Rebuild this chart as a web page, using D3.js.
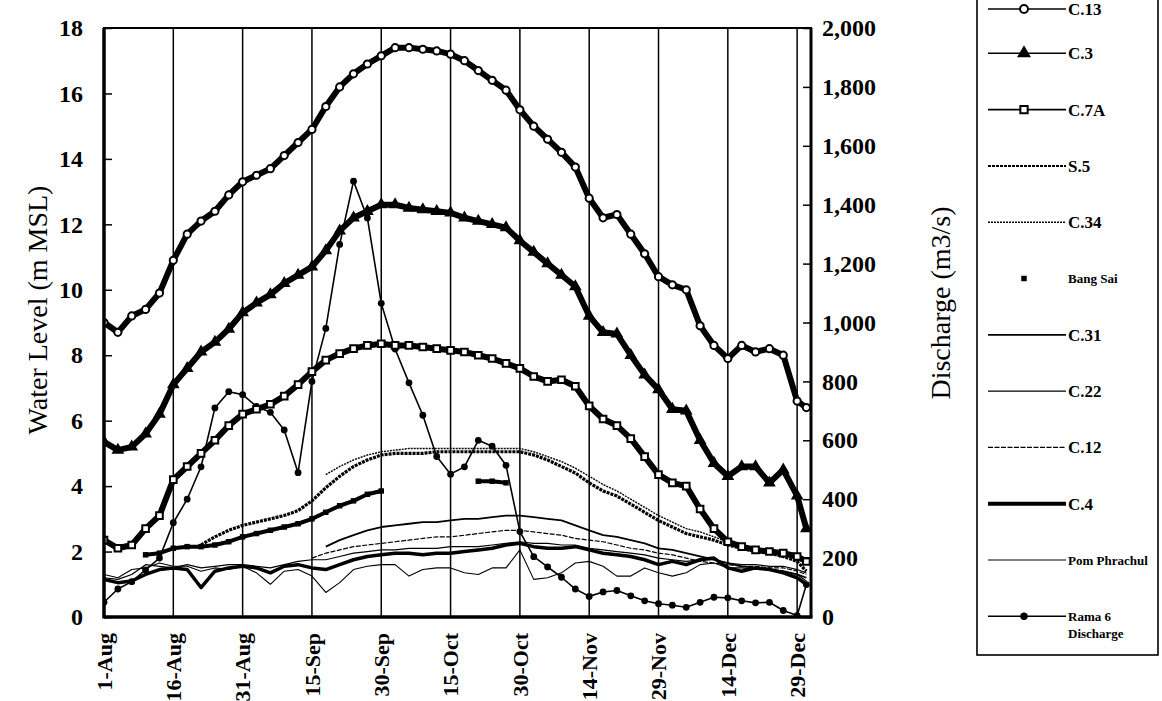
<!DOCTYPE html>
<html><head><meta charset="utf-8">
<script src="https://cdn.jsdelivr.net/npm/d3@7"></script>
<style>
body{margin:0;background:#fff}
svg{display:block}
text{font-family:"Liberation Serif","Times New Roman",serif;fill:#000}
</style>
</head><body>
<svg id="c" width="1162" height="701"></svg>
<script>
// ---- data (days after 1-Aug) ----
const days=[0,3,6,9,12,15,18,21,24,27,30,33,36,39,42,45,48,51,54,57,60,63,66,69,72,75,78,81,84,87,90,93,96,99,102,105,108,111,114,117,120,123,126,129,132,135,138,141,144,147,150,152];
const tickDays=[0,15,30,45,60,75,90,105,120,135,150];
const tickLabels=["1-Aug","16-Aug","31-Aug","15-Sep","30-Sep","15-Oct","30-Oct","14-Nov","29-Nov","14-Dec","29-Dec"];
const levelTicks=[0,2,4,6,8,10,12,14,16,18];
const dischargeTicks=[0,200,400,600,800,1000,1200,1400,1600,1800,2000];
const N=null;
const c13=[9.0,8.7,9.2,9.4,9.9,10.9,11.7,12.1,12.4,12.9,13.3,13.5,13.7,14.1,14.5,14.9,15.6,16.2,16.6,16.9,17.15,17.4,17.4,17.35,17.3,17.2,17.0,16.7,16.4,16.1,15.5,15.0,14.6,14.2,13.75,12.8,12.2,12.3,11.7,11.1,10.4,10.15,10.0,8.9,8.3,7.9,8.3,8.1,8.2,8.0,6.6,6.4];
const c3=[5.35,5.1,5.2,5.6,6.2,7.1,7.6,8.1,8.4,8.8,9.3,9.6,9.85,10.2,10.45,10.7,11.2,11.8,12.2,12.4,12.6,12.6,12.5,12.45,12.4,12.35,12.2,12.1,12.0,11.9,11.5,11.15,10.8,10.45,10.1,9.2,8.7,8.65,8.0,7.4,6.95,6.35,6.3,5.4,4.7,4.3,4.6,4.6,4.1,4.5,3.7,2.7];
const c7a=[2.35,2.1,2.2,2.7,3.1,4.2,4.6,5.0,5.4,5.85,6.2,6.35,6.5,6.75,7.1,7.5,7.85,8.05,8.2,8.3,8.35,8.3,8.3,8.25,8.2,8.15,8.1,8.0,7.9,7.75,7.6,7.35,7.2,7.25,7.05,6.45,6.05,5.85,5.45,4.9,4.35,4.1,4.0,3.3,2.7,2.3,2.15,2.05,2.0,1.95,1.85,1.7];
const s5=[N,N,N,N,N,N,N,2.2,2.45,2.65,2.8,2.9,3.0,3.1,3.25,3.55,3.95,4.3,4.6,4.8,4.95,5.0,5.0,5.0,5.05,5.05,5.05,5.05,5.05,5.05,5.05,4.95,4.8,4.6,4.4,4.1,3.85,3.7,3.45,3.2,2.95,2.75,2.55,2.45,2.35,2.2,2.1,2.0,1.95,1.85,1.7,1.4];
const c34=[N,N,N,N,N,N,N,N,N,N,N,N,N,N,N,N,4.35,4.6,4.8,4.95,5.05,5.1,5.15,5.15,5.15,5.15,5.15,5.15,5.15,5.15,5.15,5.05,4.9,4.75,4.55,4.3,4.05,3.85,3.6,3.35,3.1,2.9,2.7,2.6,2.45,2.3,2.2,2.1,2.05,1.95,1.8,1.6];
const bangSai=[N,N,N,1.9,1.95,2.1,2.15,2.15,2.2,2.3,2.45,2.55,2.65,2.75,2.85,3.0,3.2,3.4,3.55,3.75,3.85,N,N,N,N,N,N,4.15,4.15,4.1,N,N,N,N,N,N,N,N,N,N,N,N,N,N,N,N,N,N,N,N,N,N];
const c31=[N,N,N,N,N,N,N,N,N,N,N,N,N,N,N,N,2.15,2.35,2.5,2.65,2.75,2.8,2.85,2.9,2.9,2.95,3.0,3.0,3.05,3.1,3.1,3.05,3.0,2.95,2.8,2.65,2.5,2.45,2.35,2.25,2.1,2.05,1.95,1.85,1.75,1.65,1.55,1.5,1.45,1.4,1.3,1.2];
const c22=[1.2,1.15,1.3,1.6,1.55,1.5,1.6,1.5,1.55,1.6,1.6,1.55,1.5,1.6,1.7,1.75,1.75,1.85,1.95,2.0,2.05,2.05,2.1,2.1,2.1,2.15,2.15,2.15,2.2,2.25,2.3,2.25,2.25,2.2,2.2,2.1,2.05,2.0,1.95,1.9,1.8,1.75,1.7,1.75,1.75,1.65,1.6,1.6,1.55,1.55,1.45,1.35];
const c12=[N,N,N,N,N,N,N,N,N,N,N,N,N,N,N,1.8,1.95,2.05,2.15,2.2,2.25,2.3,2.35,2.4,2.45,2.45,2.5,2.55,2.6,2.65,2.65,2.6,2.55,2.5,2.4,2.35,2.3,2.2,2.1,2.05,1.95,1.9,1.8,1.7,1.65,1.6,1.55,1.55,1.5,1.5,1.4,1.3];
const c4=[1.15,1.05,1.1,1.3,1.45,1.5,1.45,0.9,1.4,1.5,1.55,1.5,1.35,1.55,1.6,1.5,1.45,1.6,1.75,1.85,1.9,1.95,1.95,1.9,1.95,1.95,2.0,2.05,2.1,2.2,2.25,2.15,2.1,2.1,2.15,2.05,1.95,1.9,1.85,1.75,1.6,1.7,1.6,1.75,1.8,1.5,1.4,1.5,1.45,1.35,1.2,1.0];
const pomPhrachul=[1.3,1.2,1.45,1.5,1.65,1.55,1.55,1.4,1.5,1.45,1.55,1.35,1.0,1.4,1.45,1.25,0.75,1.05,1.45,1.55,1.6,1.6,1.25,1.45,1.5,1.5,1.35,1.3,1.5,1.5,2.05,1.15,1.2,1.35,1.65,1.7,1.55,1.25,1.25,1.5,1.35,1.25,1.35,1.6,1.65,1.5,1.5,1.45,1.45,1.4,1.3,1.1];
const rama6Discharge=[50,95,120,160,200,320,400,510,710,765,755,715,695,635,490,800,980,1265,1480,1355,1065,910,795,685,545,485,510,600,580,515,290,205,170,135,95,70,85,90,72,55,45,40,33,50,67,65,55,48,50,22,5,110];

// ---- series styling ----
const series=[
 {name:"Pom Phrachul",values:pomPhrachul,axis:"L",w:1.1,dash:null,marker:null},
 {name:"C.22",values:c22,axis:"L",w:1.2,dash:null,marker:null},
 {name:"C.12",values:c12,axis:"L",w:1.2,dash:"5,1.5",marker:null},
 {name:"C.31",values:c31,axis:"L",w:1.8,dash:null,marker:null},
 {name:"C.34",values:c34,axis:"L",w:1.4,dash:"2,1",marker:null},
 {name:"C.4",values:c4,axis:"L",w:3.5,dash:null,marker:null},
 {name:"S.5",values:s5,axis:"L",w:3.2,dash:"3,1",marker:null},
 {name:"Bang Sai",values:bangSai,axis:"L",w:4,dash:null,marker:"fsquare"},
 {name:"Rama 6 Discharge",values:rama6Discharge,axis:"R",w:1.6,dash:null,marker:"fcircle"},
 {name:"C.7A",values:c7a,axis:"L",w:6,dash:null,marker:"osquare"},
 {name:"C.3",values:c3,axis:"L",w:6,dash:null,marker:"ftriangle"},
 {name:"C.13",values:c13,axis:"L",w:6,dash:null,marker:"ocircle"}
];
const legendOrder=["C.13","C.3","C.7A","S.5","C.34","Bang Sai","C.31","C.22","C.12","C.4","Pom Phrachul","Rama 6 Discharge"];

const svg=d3.select("#c");
const M={l:104,r:811,t:28,b:617};
const x=d3.scaleLinear().domain([0,153]).range([M.l,M.r]);
const y=d3.scaleLinear().domain([0,18]).range([M.b,M.t]);
const yq=d3.scaleLinear().domain([0,2000]).range([M.b,M.t]);

// gridlines
svg.append("g").selectAll("line").data(tickDays.slice(1)).join("line")
 .attr("x1",d=>x(d)).attr("x2",d=>x(d)).attr("y1",M.t).attr("y2",M.b)
 .attr("stroke","#000").attr("stroke-width",1.5);

// clip
svg.append("clipPath").attr("id","clip").append("rect")
 .attr("x",M.l).attr("y",M.t-6).attr("width",M.r-M.l).attr("height",M.b-M.t+6);
const plot=svg.append("g").attr("clip-path","url(#clip)");

function drawMarker(g,type,cx,cy,scale){
  const s=scale||1;
  if(type==="ocircle"){g.append("circle").attr("cx",cx).attr("cy",cy).attr("r",3.6*s).attr("fill","#fff").attr("stroke","#000").attr("stroke-width",2);}
  else if(type==="fcircle"){g.append("circle").attr("cx",cx).attr("cy",cy).attr("r",3.4*s).attr("fill","#000");}
  else if(type==="ftriangle"){g.append("path").attr("d",d3.symbol(d3.symbolTriangle,70*s*s)()).attr("transform",`translate(${cx},${cy})`).attr("fill","#000");}
  else if(type==="osquare"){g.append("path").attr("d",d3.symbol(d3.symbolSquare,44*s*s)()).attr("transform",`translate(${cx},${cy})`).attr("fill","#fff").attr("stroke","#000").attr("stroke-width",2);}
  else if(type==="fsquare"){g.append("path").attr("d",d3.symbol(d3.symbolSquare,30*s*s)()).attr("transform",`translate(${cx},${cy})`).attr("fill","#000");}
}

series.forEach(s=>{
  const ys=s.axis==="R"?yq:y;
  const pts=days.map((d,i)=>({d,v:s.values[i]}));
  const line=d3.line().defined(p=>p.v!==null).x(p=>x(p.d)).y(p=>ys(p.v)).curve(d3.curveLinear);
  plot.append("path").datum(pts).attr("d",line).attr("fill","none")
   .attr("stroke","#000").attr("stroke-width",s.w).attr("stroke-linejoin","round")
   .attr("stroke-dasharray",s.dash);
  if(s.marker){
    const g=plot.append("g");
    pts.filter(p=>p.v!==null).forEach(p=>drawMarker(g,s.marker,x(p.d),ys(p.v)));
  }
});

// border
svg.append("rect").attr("x",M.l).attr("y",M.t).attr("width",M.r-M.l).attr("height",M.b-M.t)
 .attr("fill","none").attr("stroke","#000").attr("stroke-width",2);
svg.append("line").attr("x1",M.l).attr("x2",M.l).attr("y1",M.t).attr("y2",M.b+1.5).attr("stroke","#000").attr("stroke-width",3.5);
svg.append("line").attr("x1",M.l).attr("x2",M.r+1.5).attr("y1",M.b).attr("y2",M.b).attr("stroke","#000").attr("stroke-width",3.5);
svg.append("line").attr("x1",M.r).attr("x2",M.r).attr("y1",M.t).attr("y2",M.b).attr("stroke","#000").attr("stroke-width",3);

// axes
const axL=svg.append("g").attr("transform",`translate(${M.l},0)`)
 .call(d3.axisLeft(y).tickValues(levelTicks).tickSize(-8).tickSizeOuter(0).tickPadding(21));
const axR=svg.append("g").attr("transform",`translate(${M.r},0)`)
 .call(d3.axisRight(yq).tickValues(dischargeTicks).tickSize(-8).tickSizeOuter(0).tickPadding(11).tickFormat(d3.format(",")));
[axL,axR].forEach(a=>{
  a.select(".domain").remove();
  a.selectAll(".tick line").attr("stroke","#000").attr("stroke-width",1.5);
  a.selectAll(".tick text").attr("font-family","Liberation Serif").attr("font-size",24).attr("font-weight","bold").attr("fill","#000");
});

// x labels
svg.append("g").selectAll("text").data(tickDays).join("text")
 .attr("transform",(d)=>`translate(${x(d)},633) rotate(-90)`)
 .attr("text-anchor","end").attr("dy","0.35em")
 .attr("font-size",22).attr("font-weight","bold")
 .text((d,i)=>tickLabels[i]);

// axis titles
svg.append("text").attr("transform","translate(37,310) rotate(-90)").attr("text-anchor","middle")
 .attr("dy","0.35em").attr("font-size",28).text("Water Level (m MSL)");
svg.append("text").attr("transform","translate(940,303) rotate(-90)").attr("text-anchor","middle")
 .attr("dy","0.35em").attr("font-size",28).text("Discharge (m3/s)");

// legend
const lg=svg.append("g");
lg.append("rect").attr("x",977).attr("y",-10).attr("width",181).attr("height",665)
 .attr("fill","#fff").attr("stroke","#000").attr("stroke-width",1.6);
const byName={};series.forEach(s=>byName[s.name]=s);
legendOrder.forEach((name,i)=>{
  const s=byName[name];
  const yy=i===0?9:(-3+56.3*i);
  if(name!=="Bang Sai"){
    lg.append("line").attr("x1",988).attr("x2",1066).attr("y1",yy).attr("y2",yy)
     .attr("stroke","#000").attr("stroke-width",name==="C.4"?4:(s.marker&&s.marker!=="fcircle"?1.6:Math.min(s.w,2)))
     .attr("stroke-dasharray",s.dash);
  }
  if(s.marker) drawMarker(lg,s.marker,1024,yy,name==="Bang Sai"?1:1.1);
  const small=(name==="Bang Sai"||name==="Pom Phrachul"||name==="Rama 6 Discharge");
  const t=lg.append("text").attr("x",1068).attr("y",yy).attr("dy","0.35em")
   .attr("font-weight","bold").attr("font-size",small?13:17);
  if(name==="Rama 6 Discharge"){
    t.text("Rama 6");
    lg.append("text").attr("x",1068).attr("y",yy+17).attr("dy","0.35em").attr("font-weight","bold").attr("font-size",13).text("Discharge");
  } else t.text(name);
});
</script>
</body></html>
